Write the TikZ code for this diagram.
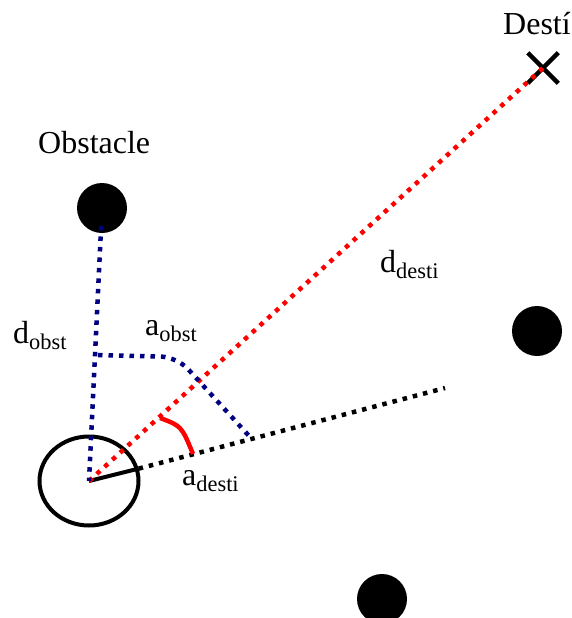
\documentclass[tikz,border=0pt]{standalone}
\usepackage{fontspec}
\setmainfont{Liberation Serif}
\usetikzlibrary{shapes.geometric,shapes.misc}
\definecolor{navy}{HTML}{000080}
\begin{document}
\begin{tikzpicture}[x=1pt,y=-1pt,
 lbl/.style={anchor=base west,inner sep=0pt,font=\fontsize{32}{38}\selectfont},
 obs/.style={circle,fill=black,minimum size=50pt,inner sep=0pt},
 dotline/.style={line width=4.5pt,dash pattern=on 4.5pt off 6pt}]
\useasboundingbox (0,0) rectangle (571,618);
\node[draw,ellipse,line width=4pt,minimum width=99pt,minimum height=89pt,inner sep=0pt] (robot) at (89,481) {};
\node[obs] (obsta) at (102,208) {};\node[obs] (obstb) at (537,331) {};\node[obs] (obstc) at (382,599) {};
\node[draw,cross out,line width=4.5pt,minimum size=26pt,inner sep=0pt] (goal) at (543,68) {};
\coordinate (head) at (445,388);
% heading and lines of sight
\draw[line width=4pt] (robot.center) -- (robot.14.6);
\draw[dotline,black] (robot.14.6) -- (head);
\draw[dotline,red] (robot.center) -- (goal.center);
\draw[dotline,navy,shorten <=18pt] (obsta.center) -- (robot.center);
\draw[dotline,navy,rounded corners=16pt] (98,355) -- (177,357) -- (250,437);
\draw[line width=4.5pt,red] (160,418) .. controls (181.5,426) .. (193,454);
% labels
\node[lbl] (tgoal) at (503,35) {Destí};
\node[lbl] (tobst) at (38,153) {Obstacle};
\node[lbl] (tdobst) at (13,343) {d\textsubscript{obst}};
\node[lbl] (taobst) at (145,335) {a\textsubscript{obst}};
\node[lbl] (tddesti) at (380,272) {d\textsubscript{desti}};
\node[lbl] (tadesti) at (182,485) {a\textsubscript{desti}};
\end{tikzpicture}
\end{document}
